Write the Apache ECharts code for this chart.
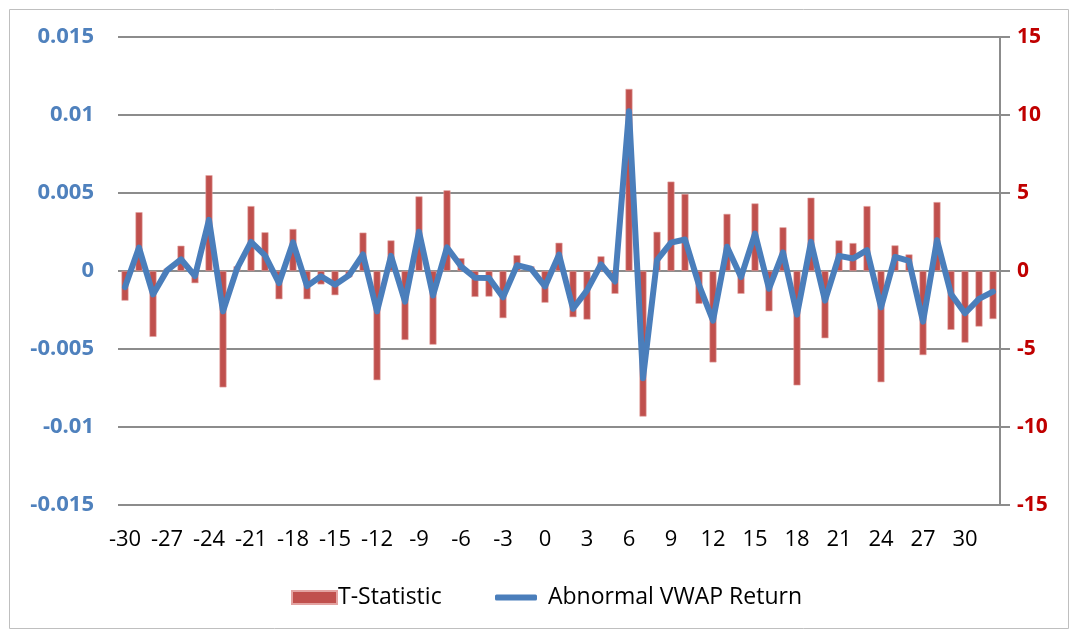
<!DOCTYPE html>
<html>
<head>
<meta charset="utf-8">
<script src="https://cdn.jsdelivr.net/npm/echarts@6/dist/echarts.min.js"></script>
<style>
html,body{margin:0;padding:0;background:#fff;}
#c{width:1073px;height:632px;}
</style>
</head>
<body>
<div id="c"></div>
<script>
// Event days -30 .. 32
const days = [];
for (let d = -30; d <= 32; d++) days.push(String(d));

// T-Statistic (right axis)
const tStat = [
  -1.9, 3.77, -4.22, 0.15, 1.62, -0.78, 6.14, -7.46, 0.3, 4.16,
  2.48, -1.81, 2.69, -1.81, -0.86, -1.55, -0.39, 2.46, -7.0, 1.96,
  -4.42, 4.78, -4.72, 5.17, 0.82, -1.66, -1.64, -3.02, 1.01, 0.3,
  -2.03, 1.81, -2.96, -3.11, 0.94, -1.46, 11.67, -9.33, 2.51, 5.73,
  4.94, -2.1, -5.86, 3.66, -1.46, 4.33, -2.58, 2.8, -7.33, 4.7,
  -4.31, 1.96, 1.79, 4.16, -7.13, 1.64, 1.06, -5.39, 4.42, -3.77,
  -4.59, -3.56, -3.08
];

// Abnormal VWAP Return (left axis)
const vwap = [
  -0.00103, 0.0015, -0.0015, 0.00004, 0.00075, -0.00032, 0.00328, -0.00259, 0.00015, 0.00187,
  0.001, -0.00078, 0.00183, -0.00097, -0.00034, -0.00088, -0.00028, 0.00106, -0.00259, 0.00097,
  -0.00196, 0.00252, -0.00157, 0.00151, 0.0003, -0.00043, -0.00045, -0.00168, 0.00037, 0.00015,
  -0.00099, 0.00105, -0.00242, -0.00124, 0.00043, -0.00067, 0.01024, -0.00687, 0.00069, 0.00182,
  0.00202, -0.0009, -0.00318, 0.00155, -0.00039, 0.0024, -0.00114, 0.00119, -0.0028, 0.00187,
  -0.0019, 0.00097, 0.0008, 0.00134, -0.00233, 0.0009, 0.00065, -0.00325, 0.00198, -0.00147,
  -0.00271, -0.00179, -0.00132
];

const FONT = 'Open Sans';
const chart = echarts.init(document.getElementById('c'), null, {renderer: 'canvas'});
chart.setOption({
  animation: false,
  backgroundColor: '#ffffff',
  graphic: [{
    type: 'rect', left: 7, top: 7, z: -1,
    shape: {width: 1059, height: 619},
    style: {fill: 'none', stroke: '#bfbfbf', lineWidth: 1}
  }],
  grid: {left: 118, right: 73, top: 37, bottom: 127, containLabel: false},
  legend: [{
    left: 286, top: 581,
    data: [{name: 'T-Statistic', icon: 'rect'}],
    itemWidth: 45, itemHeight: 13,
    textStyle: {fontFamily: FONT, fontSize: 23, color: '#000', padding: [0,0,0,-4]}
  }, {
    left: 490, top: 581,
    data: [{name: 'Abnormal VWAP Return', icon: 'roundRect'}],
    itemWidth: 42, itemHeight: 6,
    itemStyle: {color: '#4A7EBB'},
    textStyle: {fontFamily: FONT, fontSize: 23, color: '#000', padding: [0,0,0,6]}
  }],
  xAxis: {
    type: 'category',
    data: days,
    boundaryGap: true,
    axisLine: {show: false, onZero: false},
    axisTick: {show: false},
    axisLabel: {interval: 2, margin: 24, fontFamily: FONT, fontSize: 22, color: '#000'},
    splitLine: {show: false}
  },
  yAxis: [{
    type: 'value',
    position: 'left',
    min: -0.015, max: 0.015, interval: 0.005,
    axisLine: {show: false},
    axisTick: {show: false},
    axisLabel: {
      margin: 24, fontFamily: FONT, fontSize: 22, fontWeight: 'bold', color: '#4F81BD',
      formatter: v => String(+v.toFixed(3))
    },
    splitLine: {show: true, lineStyle: {color: '#8c8c8c', width: 2}}
  }, {
    type: 'value',
    position: 'right',
    min: -15, max: 15, interval: 5,
    axisLine: {show: true, lineStyle: {color: '#8c8c8c', width: 2}},
    axisTick: {show: true, length: 10, lineStyle: {color: '#8c8c8c', width: 2}},
    axisLabel: {margin: 17, fontFamily: FONT, fontSize: 21, fontWeight: 'bold', color: '#C00000'},
    splitLine: {show: false}
  }],
  series: [{
    name: 'T-Statistic',
    type: 'bar',
    yAxisIndex: 1,
    data: tStat,
    barWidth: 7,
    itemStyle: {color: '#C0504D', borderColor: '#E3A3A1', borderWidth: 0.6},
    z: 2
  }, {
    name: 'Abnormal VWAP Return',
    type: 'line',
    yAxisIndex: 0,
    data: vwap,
    symbol: 'none',
    showSymbol: false,
    lineStyle: {color: '#4A7EBB', width: 6, join: 'round', cap: 'round'},
    itemStyle: {color: '#4A7EBB'},
    z: 3
  }]
});
</script>
</body>
</html>
